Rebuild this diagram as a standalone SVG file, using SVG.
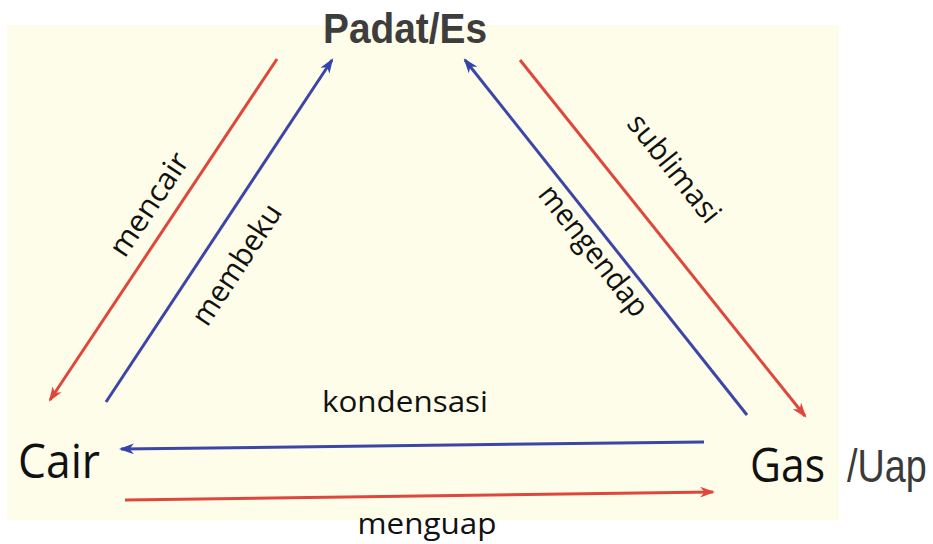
<svg xmlns="http://www.w3.org/2000/svg" width="933" height="544" viewBox="0 0 933 544">
  <style>
    .lbl { font-family: "Open Sans", "Noto Sans", sans-serif; font-size: 30px; fill: #111; }
    .node { font-family: "Open Sans", "Noto Sans", sans-serif; font-size: 48px; fill: #111; }
    .red { stroke: #e0473c; stroke-width: 3; fill: none; }
    .blue { stroke: #3c46a6; stroke-width: 3; fill: none; }
  </style>
  <defs>
    <marker id="ahRed" viewBox="0 0 14 10" refX="12" refY="5" markerWidth="15" markerHeight="11" markerUnits="userSpaceOnUse" orient="auto">
      <path d="M0,0 L14,5 L0,10 L4,5 z" fill="#e0473c"/>
    </marker>
    <marker id="ahBlue" viewBox="0 0 14 10" refX="12" refY="5" markerWidth="15" markerHeight="11" markerUnits="userSpaceOnUse" orient="auto">
      <path d="M0,0 L14,5 L0,10 L4,5 z" fill="#3344b0"/>
    </marker>
  </defs>
  <rect x="0" y="0" width="933" height="544" fill="#ffffff"/>
  <rect x="7" y="25" width="832" height="495" fill="#fefde9"/>

  <g id="connectors">
    <g id="mencair">
      <path class="red" d="M277,59 L50,400" marker-end="url(#ahRed)"/>
      <text class="lbl" transform="translate(150,205) rotate(-56.3)" x="0" y="9" text-anchor="middle" textLength="118" lengthAdjust="spacingAndGlyphs">mencair</text>
    </g>
    <g id="membeku">
      <path class="blue" d="M106,402 L332,60" marker-end="url(#ahBlue)"/>
      <text class="lbl" transform="translate(236,264) rotate(-56.7)" x="0" y="11" text-anchor="middle" textLength="138" lengthAdjust="spacingAndGlyphs">membeku</text>
    </g>
    <g id="mengendap">
      <path class="blue" d="M747,415 L465,60" marker-end="url(#ahBlue)"/>
      <text class="lbl" transform="translate(592,252) rotate(52)" x="0" y="8" text-anchor="middle" textLength="158" lengthAdjust="spacingAndGlyphs">mengendap</text>
    </g>
    <g id="sublimasi">
      <path class="red" d="M520,60 L805,416" marker-end="url(#ahRed)"/>
      <text class="lbl" transform="translate(675,168) rotate(51.4)" x="0" y="11" text-anchor="middle" textLength="130" lengthAdjust="spacingAndGlyphs">sublimasi</text>
    </g>
    <g id="kondensasi">
      <path class="blue" d="M704,442 L121,449" marker-end="url(#ahBlue)" stroke-width="3.5"/>
      <text class="lbl" x="405" y="412" text-anchor="middle" textLength="166" lengthAdjust="spacingAndGlyphs">kondensasi</text>
    </g>
    <g id="menguap">
      <path class="red" d="M125,500 L713,492" marker-end="url(#ahRed)" stroke-width="3.5"/>
      <text class="lbl" x="427" y="534" text-anchor="middle" textLength="139" lengthAdjust="spacingAndGlyphs">menguap</text>
    </g>
  </g>

  <g id="node-padat">
    <text x="323" y="43" font-family="'Liberation Sans', Arial, sans-serif" font-weight="bold" font-size="42" fill="#3d3d3d" textLength="164" lengthAdjust="spacingAndGlyphs">Padat/Es</text>
  </g>
  <g id="node-cair">
    <text class="node" x="18" y="478" textLength="82" lengthAdjust="spacingAndGlyphs">Cair</text>
  </g>
  <g id="node-gas">
    <text class="node" x="750" y="482" textLength="75" lengthAdjust="spacingAndGlyphs">Gas</text>
    <text transform="translate(847,482) scale(0.82,1)" x="0" y="0" font-family="'Liberation Sans', Arial, sans-serif" font-size="46" fill="#3a3a3a">/Uap</text>
  </g>
</svg>
